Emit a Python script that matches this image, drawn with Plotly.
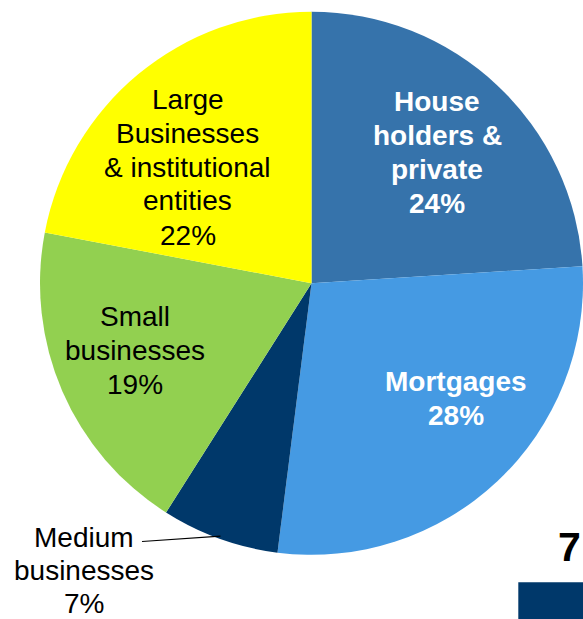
import math
import plotly.graph_objects as go

# Loan portfolio split by customer segment (percent)
segments = ["House holders & private", "Mortgages", "Medium businesses",
            "Small businesses", "Large Businesses & institutional entities"]
shares = [24, 28, 7, 19, 22]
label_lines = [
    ["House", "holders &", "private"],
    ["Mortgages"],
    ["Medium", "businesses"],
    ["Small", "businesses"],
    ["Large", "Businesses", "& institutional", "entities"],
]
colors = ["#3673AB", "#459AE3", "#00386A", "#92D050", "#FFFF00"]

W, H = 583, 619


def px(x):
    return x / W


def py(y):
    return 1 - y / H


dom_x = [40 / W, 1.0]
dom_y = [py(555), py(11.6)]

fig = go.Figure(go.Pie(
    labels=segments,
    values=shares,
    sort=False,
    direction="clockwise",
    rotation=0,
    marker=dict(colors=colors, line=dict(width=0)),
    textinfo="none",
    hoverinfo="label+percent",
    showlegend=False,
    domain=dict(x=dom_x, y=dom_y),
))

# label block centres (pixels), line pitch, font colour and weight per slice
label_pos = [(437, 152.8), (456, 398.6), (84, 570), (135, 350.3), (187.5, 167)]
label_pitch = [34, 34, 33, 34, 34]
label_style = [("white", True), ("white", True), ("black", False),
               ("black", False), ("black", False)]
FONT = "Liberation Sans, Arial, sans-serif"
FS = 28

annotations = []
for lines, share, (cx, cy), pitch, (col, bold) in zip(
        label_lines, shares, label_pos, label_pitch, label_style):
    rows = lines + [f"{share}%"]
    n = len(rows)
    for i, row in enumerate(rows):
        y = cy + (i - (n - 1) / 2) * pitch
        txt = f"<b>{row}</b>" if bold else row
        annotations.append(dict(
            x=px(cx), y=py(y), xref="paper", yref="paper",
            text=txt, showarrow=False, xanchor="center", yanchor="middle",
            font=dict(family=FONT, size=FS, color=col),
        ))

# leader line from the Medium businesses label to its slice edge
cx_pie = (dom_x[0] + dom_x[1]) / 2 * W
cy_pie = (1 - (dom_y[0] + dom_y[1]) / 2) * H
radius = min((dom_x[1] - dom_x[0]) * W, (dom_y[1] - dom_y[0]) * H) / 2
idx = 2
start = sum(shares[:idx])
mid = (start + shares[idx] / 2) / sum(shares)
theta = 2 * math.pi * mid
ex = cx_pie + radius * 0.99 * math.sin(theta)
ey = cy_pie - radius * 0.99 * math.cos(theta)

shapes = [
    dict(type="line", xref="paper", yref="paper",
         x0=px(142), y0=py(541.5), x1=px(ex), y1=py(ey),
         line=dict(color="black", width=1.2)),
    # neighbouring panel: swatch
    dict(type="rect", xref="paper", yref="paper",
         x0=px(518.3), y0=py(619), x1=px(590), y1=py(582.3),
         fillcolor="#00386A", line=dict(width=0), layer="above"),
]

# neighbouring panel: big figure at the right edge
annotations.append(dict(
    x=1.0, y=py(546.8), xref="paper", yref="paper",
    text="<b>7</b>", showarrow=False, xanchor="right", yanchor="middle",
    font=dict(family=FONT, size=41, color="black"),
))

fig.update_layout(
    width=W, height=H,
    margin=dict(l=0, r=0, t=0, b=0),
    paper_bgcolor="white",
    plot_bgcolor="white",
    annotations=annotations,
    shapes=shapes,
)

fig.write_html("out.html")
